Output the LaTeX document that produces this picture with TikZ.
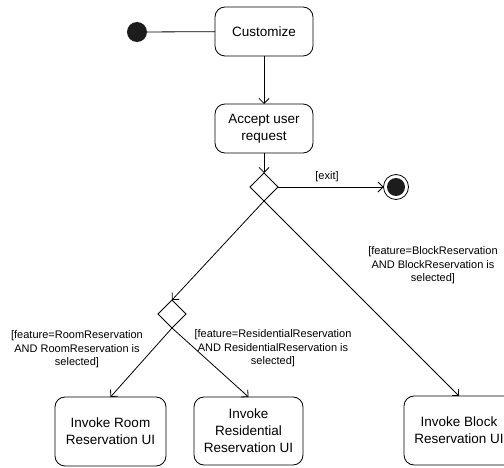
\documentclass[tikz,border=0pt]{standalone}
\usepackage{fontspec}
\setmainfont{Liberation Sans}
\usetikzlibrary{arrows.meta,shapes.geometric}
\definecolor{dot}{HTML}{1C1C1C}
\begin{document}
\begin{tikzpicture}[x=1pt,y=-1pt,
  line width=0.8pt,
  action/.style={draw, rounded corners=10pt, align=center, inner sep=2pt,
    outer sep=0pt, font=\fontsize{13.5}{17}\selectfont},
  choice/.style={draw, diamond, minimum width=28pt, minimum height=28pt,
    inner sep=0pt, outer sep=0pt},
  guard/.style={align=center, inner sep=0pt, font=\fontsize{11}{13.5}\selectfont},
  flow/.style={-{Straight Barb[length=5pt,width=10pt]}}
]
\useasboundingbox (0,0) rectangle (504,468);

% actions
\node[action, minimum width=98pt, minimum height=49pt] (cust) at (264,31.5) {Customize};
\node[action, minimum width=98pt, minimum height=49pt] (acc) at (264,128.5) {Accept user\\request};
\node[action, minimum width=111pt, minimum height=69pt] (room) at (110.5,431.5) {Invoke Room\\Reservation UI};
\node[action, minimum width=109pt, minimum height=68pt] (res) at (248.5,431) {Invoke\\Residential\\Reservation UI};
\node[action, minimum width=110pt, minimum height=69pt] (block) at (459,430.5) {Invoke Block\\Reservation UI};

% start and end
\node[circle, fill=dot, minimum size=20pt, inner sep=0pt, outer sep=0pt] (init) at (137,32) {};
\node[circle, draw, minimum size=25pt, inner sep=0pt, outer sep=0pt] (final) at (396,187) {};
\node[circle, fill=dot, minimum size=18pt, inner sep=0pt] (finaldot) at (final.center) {};

% decisions
\node[choice] (d1) at (264,187) {};
\node[choice] (d2) at (172,314) {};

% flows
\draw (init) -- (cust);
\draw[flow] (cust) -- (acc);
\draw[flow] (acc) -- (d1.north);
\draw[flow] (d1.east) -- (final.west);
\draw[flow] (d1.south) -- (d2.north);
\draw[flow] (d1.south) -- (block.north);
\draw[flow] (d2.south) -- (room.north);
\draw[flow] (d2.south) -- (res.north);

% guards
\node[guard] (gexit) at (327,177) {[exit]};
\node[guard] (gblock) at (433,265.5) {[feature=BlockReservation\\AND BlockReservation is\\selected]};
\node[guard] (groom) at (77,349.5) {[feature=RoomReservation\\AND RoomReservation is\\selected]};
\node[guard] (gres) at (273,348.5) {[feature=ResidentialReservation\\AND ResidentialReservation is\\selected]};
\end{tikzpicture}
\end{document}
